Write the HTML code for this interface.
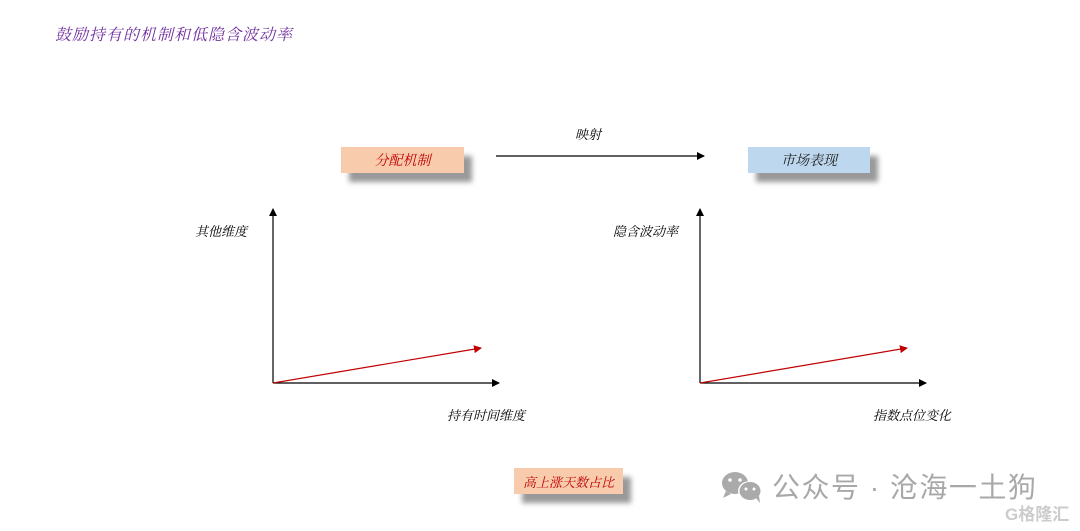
<!DOCTYPE html>
<html><head><meta charset="utf-8"><style>
body{margin:0;width:1080px;height:531px;background:#fff;position:relative;overflow:hidden;font-family:"Liberation Serif","Noto Serif CJK SC",serif;}
.t{position:absolute;font-style:italic;white-space:nowrap;line-height:1;}
.box{position:absolute;height:26px;box-shadow:8px 9px 5px #999;font-style:italic;text-align:center;line-height:29px;font-size:14px;}
</style></head><body>
<div class="t" style="left:55px;top:28px;font-size:16px;color:#7030a0;letter-spacing:1px">鼓励持有的机制和低隐含波动率</div>
<div class="box" style="left:341px;top:147px;width:123px;background:#f8cbad;color:#c00000">分配机制</div>
<div class="box" style="left:748px;top:147px;width:122px;background:#bdd7ee;color:#222">市场表现</div>
<div class="box" style="left:514px;top:468px;width:109px;background:#f8cbad;color:#c00000;font-size:13px">高上涨天数占比</div>
<div class="t" style="left:575px;top:128px;font-size:13px">映射</div>
<div class="t" style="left:195px;top:225px;font-size:13px">其他维度</div>
<div class="t" style="left:447px;top:409px;font-size:13px">持有时间维度</div>
<div class="t" style="left:613px;top:225px;font-size:13px">隐含波动率</div>
<div class="t" style="left:873px;top:409px;font-size:13px">指数点位变化</div>
<svg width="1080" height="531" style="position:absolute;left:0;top:0">
<defs>
<marker id="k" markerWidth="8" markerHeight="8" refX="7" refY="4" orient="auto" markerUnits="userSpaceOnUse"><path d="M0,0L8,4L0,8z" fill="#000"/></marker>
<marker id="r" markerWidth="8" markerHeight="8" refX="7" refY="4" orient="auto" markerUnits="userSpaceOnUse"><path d="M0,0L8,4L0,8z" fill="#c00000"/></marker>
</defs>
<g stroke="#000" stroke-width="1.2" fill="none">
<line x1="496" y1="156" x2="704" y2="156" marker-end="url(#k)"/>
<line x1="273" y1="383" x2="273" y2="209" marker-end="url(#k)"/>
<line x1="273" y1="383" x2="499" y2="383" marker-end="url(#k)"/>
<line x1="700" y1="383" x2="700" y2="209" marker-end="url(#k)"/>
<line x1="700" y1="383" x2="926" y2="383" marker-end="url(#k)"/>
</g>
<line x1="273" y1="383" x2="481" y2="348" stroke="#c00000" stroke-width="1.2" marker-end="url(#r)"/>
<line x1="700" y1="383" x2="907" y2="348" stroke="#c00000" stroke-width="1.2" marker-end="url(#r)"/>
<g fill="#aaa">
<ellipse cx="735" cy="483" rx="13" ry="11"/>
<path d="M726,491l-3,7l8,-4z"/>
<ellipse cx="750" cy="491" rx="12" ry="10" fill="#fff"/>
<ellipse cx="750" cy="491" rx="10.5" ry="9"/>
<path d="M756,498l4,5l-1,-7z"/>
</g>
<g fill="#fff"><circle cx="730" cy="480" r="1.8"/><circle cx="740" cy="480" r="1.8"/><circle cx="746" cy="489" r="1.5"/><circle cx="754" cy="489" r="1.5"/></g>
</svg>
<div style="position:absolute;left:772px;top:472px;font-family:'Liberation Sans','Noto Sans CJK SC',sans-serif;font-size:28px;letter-spacing:1.5px;color:#a8a8a8;line-height:32px;white-space:nowrap">公众号 · 沧海一土狗</div>
<div style="position:absolute;left:1005px;top:505px;font-family:'Liberation Sans','Noto Sans CJK SC',sans-serif;font-size:17px;color:#ccc;line-height:20px;white-space:nowrap;font-weight:bold">G格隆汇</div>
</body></html>
